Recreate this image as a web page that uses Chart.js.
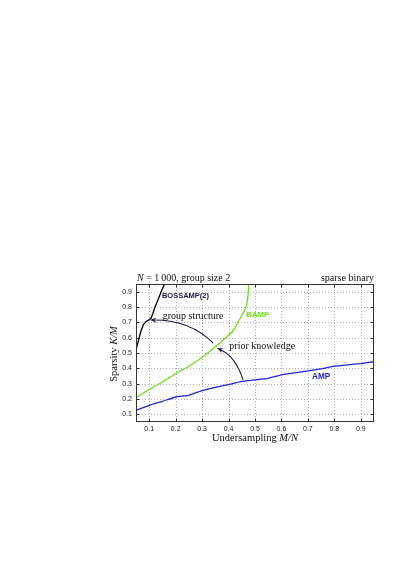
<!DOCTYPE html>
<html><head><meta charset="utf-8">
<script src="https://cdn.jsdelivr.net/npm/chart.js@4"></script>
<style>html,body{margin:0;padding:0;background:#fff;}#wrap{width:407px;height:575px;}</style>
</head><body><div id="wrap"><canvas id="c" width="407" height="575"></canvas></div>
<script>
// ---- data ----
const ampX  = [0.05,0.10,0.15,0.20,0.25,0.30,0.35,0.40,0.45,0.50,0.55,0.60,0.65,0.70,0.75,0.80,0.85,0.90,0.95];
const ampY  = [0.126,0.159,0.185,0.213,0.224,0.255,0.276,0.294,0.315,0.325,0.335,0.358,0.371,0.383,0.397,0.414,0.423,0.431,0.443];
const bampX = [0.05,0.10,0.15,0.20,0.25,0.30,0.35,0.39,0.42,0.435,0.452,0.466,0.472,0.475,0.477];
const bampY = [0.209,0.262,0.311,0.366,0.414,0.470,0.540,0.600,0.650,0.700,0.750,0.800,0.850,0.900,0.950];
const bossX = [0.05,0.056,0.062,0.069,0.078,0.088,0.098,0.106,0.113,0.122,0.134,0.145,0.158];
const bossY = [0.52,0.56,0.60,0.645,0.685,0.705,0.715,0.725,0.755,0.80,0.85,0.90,0.95];
const seriesNames = ['BOSSAMP(2)','BAMP','AMP'];
const tickValues = [0.1,0.2,0.3,0.4,0.5,0.6,0.7,0.8,0.9];
const tickLabels = ['0.1','0.2','0.3','0.4','0.5','0.6','0.7','0.8','0.9'];
const axisMin = 0.05, axisMax = 0.95;

const pts = (xs, ys) => xs.map((v, i) => ({x: v, y: ys[i]}));

const COL_BLUE = '#2323e0', COL_GREEN = '#6ce01c', COL_BLACK = '#000000', COL_NAVY = '#1b1b45';

const decor = {
  id: 'decor',
  beforeDatasetsDraw(chart) {
    const {ctx, chartArea: a, scales: {x, y}} = chart;
    ctx.save();
    ctx.strokeStyle = '#b0b0b0'; ctx.lineWidth = 1; ctx.setLineDash([1, 2]);
    tickValues.forEach(v => {
      const px = Math.round(x.getPixelForValue(v)) + 0.5;
      ctx.beginPath(); ctx.moveTo(px, a.top); ctx.lineTo(px, a.bottom); ctx.stroke();
      const py = Math.round(y.getPixelForValue(v)) + 0.5;
      ctx.beginPath(); ctx.moveTo(a.left, py); ctx.lineTo(a.right, py); ctx.stroke();
    });
    ctx.restore();
  },
  afterDatasetsDraw(chart) {
    const {ctx, chartArea: a, scales: {x, y}} = chart;
    ctx.save();
    // frame
    ctx.strokeStyle = '#333'; ctx.lineWidth = 1;
    const L = Math.round(a.left) + 0.5, R = Math.round(a.right) - 0.5, T = Math.round(a.top) + 0.5, B = Math.round(a.bottom) - 0.5;
    ctx.strokeRect(L, T, R - L, B - T);
    // inward ticks
    tickValues.forEach(v => {
      const px = Math.round(x.getPixelForValue(v)) + 0.5;
      ctx.beginPath(); ctx.moveTo(px, B); ctx.lineTo(px, B - 3); ctx.moveTo(px, T); ctx.lineTo(px, T + 3); ctx.stroke();
      const py = Math.round(y.getPixelForValue(v)) + 0.5;
      ctx.beginPath(); ctx.moveTo(L, py); ctx.lineTo(L + 3, py); ctx.moveTo(R, py); ctx.lineTo(R - 3, py); ctx.stroke();
    });
    // arrows (in data coordinates)
    const arrow = (sx, sy, cx, cy, ex, ey) => {
      const p0 = [x.getPixelForValue(sx), y.getPixelForValue(sy)];
      const c = [x.getPixelForValue(cx), y.getPixelForValue(cy)];
      const p1 = [x.getPixelForValue(ex), y.getPixelForValue(ey)];
      ctx.strokeStyle = COL_NAVY; ctx.fillStyle = COL_NAVY; ctx.lineWidth = 1.1;
      const ang = Math.atan2(p1[1] - c[1], p1[0] - c[0]);
      const len = 6.5, hw = 2.6;
      const bx = p1[0] - Math.cos(ang) * len * 0.7, by = p1[1] - Math.sin(ang) * len * 0.7;
      ctx.beginPath(); ctx.moveTo(p0[0], p0[1]); ctx.quadraticCurveTo(c[0], c[1], bx, by); ctx.stroke();
      const back = [p1[0] - Math.cos(ang) * len, p1[1] - Math.sin(ang) * len];
      const nx = -Math.sin(ang), ny = Math.cos(ang);
      ctx.beginPath();
      ctx.moveTo(p1[0], p1[1]);
      ctx.lineTo(back[0] + nx * hw, back[1] + ny * hw);
      ctx.lineTo(p1[0] - Math.cos(ang) * len * 0.65, p1[1] - Math.sin(ang) * len * 0.65);
      ctx.lineTo(back[0] - nx * hw, back[1] - ny * hw);
      ctx.closePath(); ctx.fill();
    };
    arrow(0.342, 0.565, 0.254, 0.715, 0.103, 0.715);
    arrow(0.455, 0.324, 0.428, 0.474, 0.356, 0.533);

    // series labels
    ctx.textBaseline = 'middle'; ctx.textAlign = 'left';
    ctx.font = 'bold 7.5px "Liberation Sans", Arial, sans-serif';
    ctx.fillStyle = COL_NAVY; ctx.fillText(seriesNames[0], x.getPixelForValue(0.148), y.getPixelForValue(0.872));
    ctx.font = 'bold 7.8px "Liberation Sans", Arial, sans-serif';
    ctx.fillStyle = COL_GREEN; ctx.fillText(seriesNames[1], x.getPixelForValue(0.467), y.getPixelForValue(0.750));
    ctx.font = 'bold 8.2px "Liberation Sans", Arial, sans-serif';
    ctx.fillStyle = COL_BLUE; ctx.textAlign = 'center';
    ctx.fillText(seriesNames[2], x.getPixelForValue(0.75), y.getPixelForValue(0.343));

    // annotation texts
    ctx.fillStyle = '#111'; ctx.textAlign = 'left';
    ctx.font = '10px "Liberation Serif", "Times New Roman", serif';
    ctx.fillText('group structure', x.getPixelForValue(0.151), y.getPixelForValue(0.737));
    ctx.fillText('prior knowledge', x.getPixelForValue(0.403), y.getPixelForValue(0.541));

    // mixed-style text helper
    const mixed = (parts, px, py, align) => {
      let total = 0;
      parts.forEach(p => { ctx.font = p[1]; total += ctx.measureText(p[0]).width; });
      let cx = align === 'center' ? px - total / 2 : (align === 'right' ? px - total : px);
      ctx.textAlign = 'left';
      parts.forEach(p => { ctx.font = p[1]; ctx.fillText(p[0], cx, py); cx += ctx.measureText(p[0]).width; });
    };
    const SR = '10px "Liberation Serif", "Times New Roman", serif';
    const SI = 'italic 10px "Liberation Serif", "Times New Roman", serif';
    const SR2 = '10.5px "Liberation Serif", "Times New Roman", serif';
    const SI2 = 'italic 10.5px "Liberation Serif", "Times New Roman", serif';
    // top texts
    mixed([['N', SI], [' = 1\u2009000, group size 2', SR]], a.left + 1, a.top - 6, 'left');
    mixed([['sparse binary', SR]], a.right, a.top - 6, 'right');
    // axis titles
    mixed([['Undersampling ', SR2], ['M/N', SI2]], (a.left + a.right) / 2, a.bottom + 16, 'center');
    ctx.save();
    ctx.translate(a.left - 22, (a.top + a.bottom) / 2 + 1);
    ctx.rotate(-Math.PI / 2);
    mixed([['Sparsity ', SR2], ['K/M', SI2]], 0, 0, 'center');
    ctx.restore();
    ctx.restore();
  }
};

const tickOpts = {
  font: {family: '"Liberation Sans", Arial, sans-serif', size: 7},
  color: '#222',
  callback: (v) => { const i = tickValues.findIndex(t => Math.abs(t - v) < 1e-9); return i >= 0 ? tickLabels[i] : ''; }
};

new Chart(document.getElementById('c'), {
  type: 'line',
  data: {
    datasets: [
      {label: seriesNames[0], data: pts(bossX, bossY), borderColor: COL_BLACK, borderWidth: 1.3, pointRadius: 0, tension: 0},
      {label: seriesNames[1], data: pts(bampX, bampY), borderColor: COL_GREEN, borderWidth: 1.3, pointRadius: 0, tension: 0.1},
      {label: seriesNames[2], data: pts(ampX, ampY), borderColor: COL_BLUE, borderWidth: 1.3, pointRadius: 0, tension: 0.1}
    ]
  },
  options: {
    responsive: false, animation: false, devicePixelRatio: 1,
    layout: {padding: {left: 108, right: 33, top: 284, bottom: 131}},
    plugins: {legend: {display: false}, tooltip: {enabled: false}, title: {display: false}},
    scales: {
      x: {
        type: 'linear', min: axisMin, max: axisMax,
        grid: {display: false, drawTicks: false}, border: {display: false},
        ticks: Object.assign({padding: 3, maxRotation: 0, autoSkip: false}, tickOpts),
        afterBuildTicks: s => { s.ticks = tickValues.map(v => ({value: v})); },
        afterFit: s => { s.height = 22; }
      },
      y: {
        type: 'linear', min: axisMin, max: axisMax,
        grid: {display: false, drawTicks: false}, border: {display: false},
        ticks: Object.assign({padding: 4, autoSkip: false}, tickOpts),
        afterBuildTicks: s => { s.ticks = tickValues.map(v => ({value: v})); },
        afterFit: s => { s.width = 28; }
      }
    }
  },
  plugins: [decor]
});
</script>
</body></html>
